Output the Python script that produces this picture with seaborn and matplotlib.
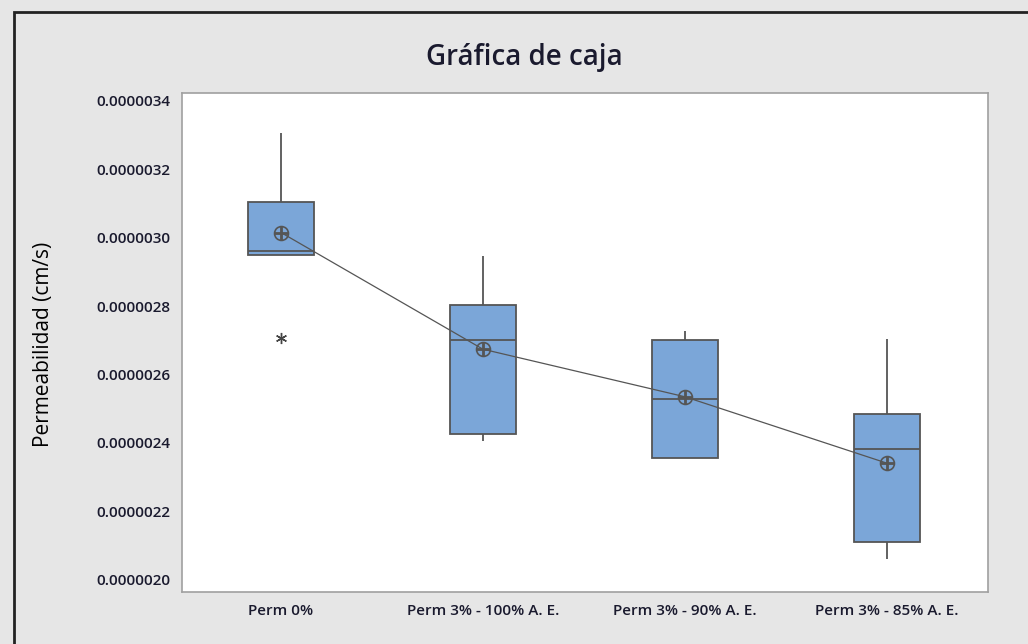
import numpy as np
import pandas as pd
import matplotlib
matplotlib.use("Agg")
import matplotlib.pyplot as plt
import matplotlib.ticker as mticker
from matplotlib.patches import Rectangle
import seaborn as sns

# permeability readings (cm/s, in units of 1e-6) per mix
groups = ["Perm 0%", "Perm 3% - 100% A. E.", "Perm 3% - 90% A. E.", "Perm 3% - 85% A. E."]
perm_0 = [2.707, 2.950, 2.950, 2.955, 2.962, 3.050, 3.104, 3.151, 3.306]
perm_100 = [2.406, 2.415, 2.426, 2.624, 2.701, 2.800, 2.804, 2.945, 2.945]
perm_90 = [2.355, 2.355, 2.355, 2.450, 2.528, 2.630, 2.701, 2.713, 2.728]
perm_85 = [2.061, 2.090, 2.111, 2.300, 2.382, 2.440, 2.485, 2.497, 2.703]

rows = []
for g, vals in zip(groups, [perm_0, perm_100, perm_90, perm_85]):
    for v in vals:
        rows.append({"grupo": g, "perm": v * 1e-6})
df = pd.DataFrame(rows)

sns.set_style("white")
plt.rcParams["font.family"] = ["Open Sans", "DejaVu Sans"]

fig = plt.figure(figsize=(10.28, 6.44), dpi=100, facecolor="#e6e6e6")
ax = fig.add_axes([0.177, 0.081, 0.784, 0.775])
ax.set_facecolor("white")

edge = "#555555"
sns.boxplot(
    data=df, x="grupo", y="perm", order=groups, ax=ax,
    color="#7ba6d8", saturation=1, width=0.33, linewidth=1.3,
    showcaps=False,
    boxprops=dict(edgecolor=edge),
    whiskerprops=dict(color=edge),
    medianprops=dict(color=edge, linewidth=1.3),
    flierprops=dict(marker=(6, 2, 0), markersize=8, markeredgecolor="#444444",
                    markeredgewidth=1.0),
)

# mean connect line with circle-plus symbols
sns.pointplot(
    data=df, x="grupo", y="perm", order=groups, ax=ax,
    estimator="mean", errorbar=None, color="#555555",
    markers="o", linewidth=0.9, markersize=10,
)
for ln in ax.lines[-1:]:
    ln.set_markerfacecolor("none")
    ln.set_markeredgewidth(1.2)
sns.pointplot(
    data=df, x="grupo", y="perm", order=groups, ax=ax,
    estimator="mean", errorbar=None, color="#555555",
    markers="+", linestyle="none", markersize=10,
)

ax.set_xlim(-0.49, 3.5)
ax.set_ylim(1.965e-6, 3.4234e-6)
ax.yaxis.set_major_locator(mticker.MultipleLocator(0.2e-6))
ax.yaxis.set_major_formatter(mticker.FormatStrFormatter("%.7f"))
ax.yaxis.get_offset_text().set_visible(False)

ax.tick_params(axis="both", which="major", direction="out", length=5, width=0.8,
               color="#888888", labelsize=11, labelcolor="#1a1a2e")
ax.tick_params(axis="x", pad=4)
for lab in ax.get_xticklabels() + ax.get_yticklabels():
    lab.set_fontweight("semibold")
ax.set_xlabel("")
ax.set_ylabel("")
for s in ax.spines.values():
    s.set_color("#a0a0a0")
    s.set_linewidth(1.2)

fig.text(0.51, 0.91, "Gráfica de caja", ha="center", va="center",
         fontsize=20, fontweight="semibold", color="#1a1a2e")
fig.text(0.042, 0.465, "Permeabilidad (cm/s)", ha="center", va="center",
         rotation=90, fontsize=15, color="black")

# outer frame
fig.patches.append(Rectangle((0.0135, -0.01), 1.0, 0.992, transform=fig.transFigure,
                             fill=False, edgecolor="#222222", linewidth=2))

fig.savefig("out.png", dpi=100, facecolor=fig.get_facecolor())
